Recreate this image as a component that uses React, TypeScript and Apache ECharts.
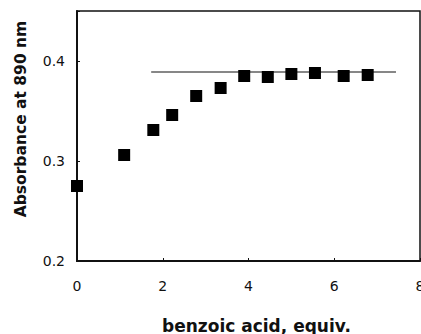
import React, { useEffect, useRef } from "react";
import * as echarts from "echarts";

const equiv = [0, 1.1, 1.78, 2.22, 2.78, 3.35, 3.9, 4.45, 5.0, 5.55, 6.22, 6.78];
const absorbance = [0.275, 0.306, 0.331, 0.346, 0.365, 0.373, 0.385, 0.384, 0.387, 0.388, 0.385, 0.386];
const plateauX = [1.73, 7.44];
const plateauY = [0.389, 0.389];

export default function App() {
  const ref = useRef<HTMLDivElement>(null);
  useEffect(() => {
    const chart = echarts.init(ref.current!, undefined, { renderer: "svg" });
    const font = "DejaVu Sans, Arial, sans-serif";
    chart.setOption({
      animation: false,
      grid: {
        left: 77,
        top: 11,
        right: 1,
        bottom: 73,
        show: true,
        borderColor: "#111",
        borderWidth: 1.5,
        outerBoundsMode: "none",
        containLabel: false,
      },
      xAxis: {
        type: "value",
        min: 0,
        max: 8,
        interval: 2,
        name: "benzoic acid, equiv.",
        nameLocation: "middle",
        nameGap: 56,
        nameTextStyle: { fontFamily: font, fontSize: 17, fontWeight: "bold", color: "#111", padding: [0, 0, 0, 16] },
        axisLine: { show: true, lineStyle: { color: "#111", width: 2 } },
        axisTick: { show: true, inside: true, length: 3, lineStyle: { color: "#111" } },
        axisLabel: { fontFamily: font, fontSize: 14, color: "#111", margin: 18 },
        splitLine: { show: false },
      },
      yAxis: {
        type: "value",
        min: 0.2,
        max: 0.45,
        interval: 0.1,
        name: "Absorbance at 890 nm",
        nameLocation: "middle",
        nameGap: 48,
        nameTextStyle: { fontFamily: font, fontSize: 15.5, fontWeight: "bold", color: "#111", padding: [0, 0, 0, 34] },
        axisLine: { show: true, lineStyle: { color: "#111", width: 2 } },
        axisTick: { show: true, inside: true, length: 3, lineStyle: { color: "#111" } },
        axisLabel: {
          fontFamily: font,
          fontSize: 14,
          color: "#111",
          margin: 12,
          formatter: (v: number) => (Math.abs(v - 0.45) < 1e-6 ? "" : v.toFixed(1)),
        },
        splitLine: { show: false },
      },
      series: [
        {
          type: "line",
          data: plateauX.map((x, i) => [x, plateauY[i]]),
          showSymbol: false,
          symbol: "none",
          lineStyle: { color: "#111", width: 1.2 },
          z: 1,
        },
        {
          type: "scatter",
          data: equiv.map((x, i) => [x, absorbance[i]]),
          symbol: "rect",
          symbolSize: 12,
          itemStyle: { color: "#000", opacity: 1 },
          z: 2,
        },
      ],
    });
    return () => chart.dispose();
  }, []);
  return <div ref={ref} style={{ width: 421, height: 334, position: "absolute", left: 0, top: 0 }} />;
}
